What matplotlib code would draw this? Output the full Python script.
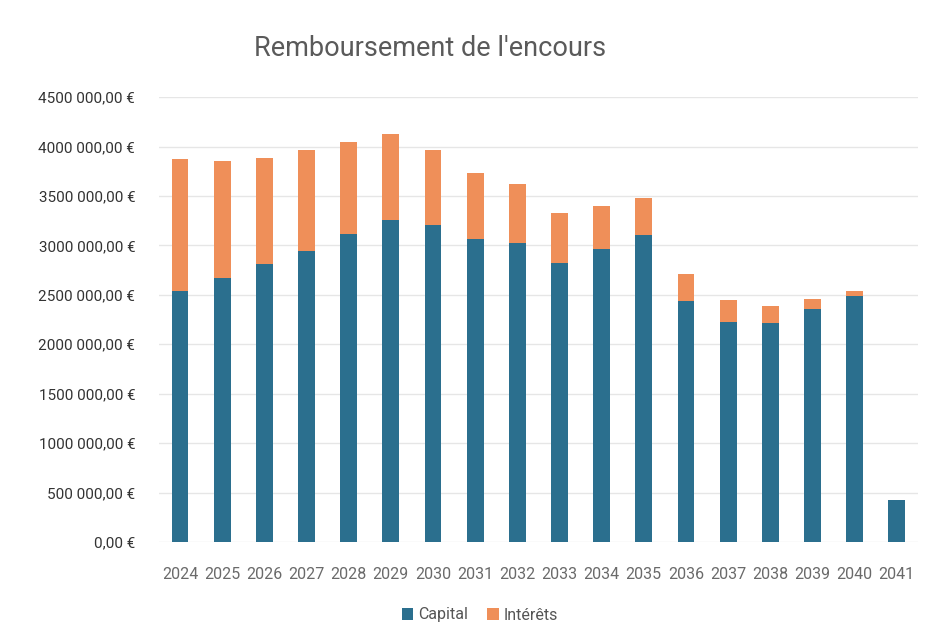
import matplotlib
matplotlib.use("Agg")
import matplotlib.pyplot as plt
from matplotlib.ticker import FuncFormatter

plt.rcParams['font.family'] = ['Roboto', 'DejaVu Sans']

annees = ['2024', '2025', '2026', '2027', '2028', '2029', '2030', '2031', '2032',
          '2033', '2034', '2035', '2036', '2037', '2038', '2039', '2040', '2041']
capital = [2536000, 2672000, 2807000, 2948000, 3111000, 3262000, 3202000, 3060000, 3026000,
           2824000, 2959000, 3104000, 2435000, 2226000, 2216000, 2358000, 2486000, 425000]
total = [3870000, 3857000, 3887000, 3965000, 4046000, 4124000, 3965000, 3736000, 3624000,
         3330000, 3397000, 3475000, 2715000, 2452000, 2391000, 2462000, 2543000, 425000]
interets = [t - c for t, c in zip(total, capital)]

bleu = '#2B6F8E'
orange = '#EF8F59'

fig = plt.figure(figsize=(9.29, 6.43), dpi=100)
ax = fig.add_axes([0.171, 0.157, 0.817, 0.692])

x = range(len(annees))
ax.bar(x, capital, width=0.4, color=bleu, label='Capital', zorder=3)
ax.bar(x, interets, width=0.4, bottom=capital, color=orange, label='Intérêts', zorder=3)

def euro(v, pos):
    # format comme dans le tableur : un seul espace avant les trois derniers chiffres
    n = int(round(v))
    if n >= 1000:
        s = '{} {:03d}'.format(n // 1000, n % 1000)
    else:
        s = str(n)
    return s + ',00 €'

ax.set_ylim(0, 4500000)
ax.set_yticks(range(0, 4500001, 500000))
ax.yaxis.set_major_formatter(FuncFormatter(euro))
ax.set_xlim(-0.5, len(annees) - 0.5)
ax.set_xticks(list(x))
ax.set_xticklabels(annees)

ax.grid(axis='y', color='#e6e6e6', linewidth=1, zorder=0)
for s in ax.spines.values():
    s.set_visible(False)
ax.tick_params(axis='both', length=0)
ax.tick_params(axis='y', labelsize=11, labelcolor='#333333', pad=17)
ax.tick_params(axis='x', labelsize=11.5, labelcolor='#6a6a6a', pad=18)

fig.text(430 / 929, 1 - 48 / 643, "Remboursement de l'encours", ha='center', va='center',
         fontsize=19.5, color='#5a5a5a')

ax.legend(loc='center', bbox_to_anchor=(480 / 929, 1 - 615 / 643), bbox_transform=fig.transFigure,
          ncol=2, frameon=False, fontsize=11.5, labelcolor='#555555', handlelength=0.7,
          handleheight=0.7, handletextpad=0.3, columnspacing=1.2)

fig.savefig('out.png', dpi=100)
